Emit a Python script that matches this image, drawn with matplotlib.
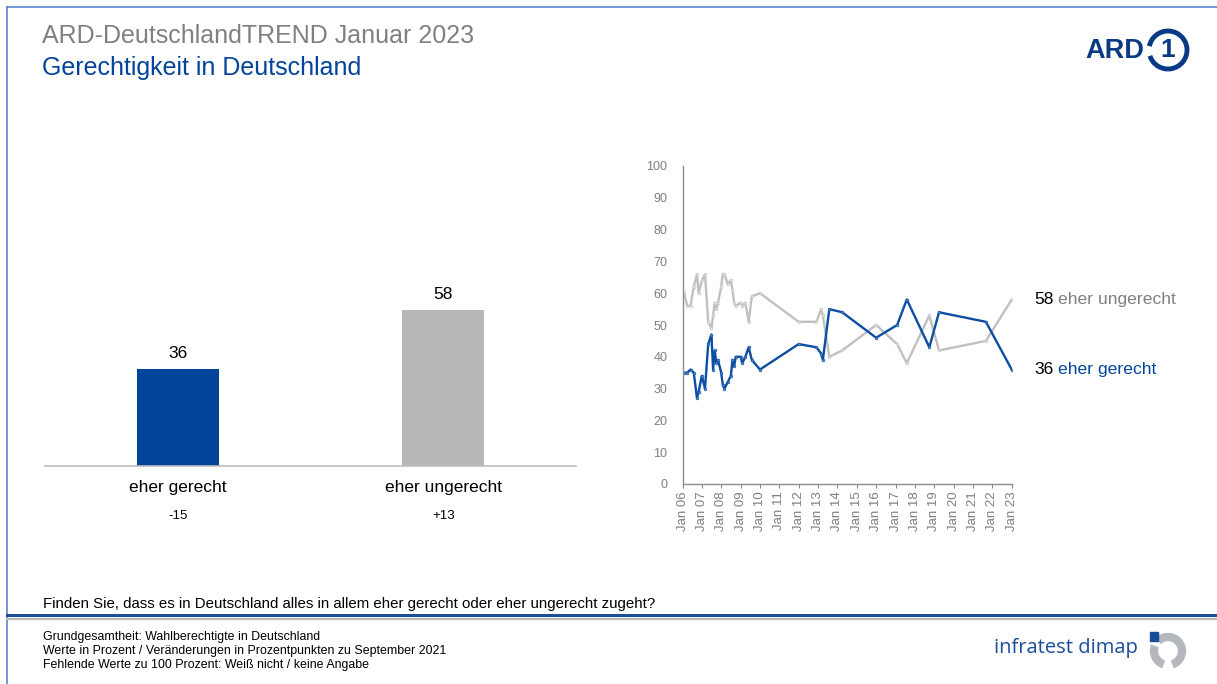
import numpy as np
import pandas as pd
import matplotlib
matplotlib.use("Agg")
from matplotlib import pyplot as plt
from matplotlib.patches import Arc, Rectangle
from matplotlib.lines import Line2D

plt.rcParams['font.family'] = ['Liberation Sans', 'DejaVu Sans']

# bar chart data
bar_labels = ['eher gerecht', 'eher ungerecht']
bar_values = [36, 58]
bar_changes = ['-15', '+13']

# trend data (ARD-DeutschlandTREND)
dates = ['2006-02', '2006-04', '2006-06', '2006-08', '2006-10', '2006-11',
         '2007-01', '2007-03', '2007-05', '2007-07', '2007-08', '2007-09',
         '2007-10', '2007-11', '2008-01', '2008-02', '2008-03', '2008-05',
         '2008-07', '2008-08', '2008-09', '2008-10', '2009-01', '2009-02',
         '2009-04', '2009-06', '2009-08', '2010-01', '2012-01', '2012-12',
         '2013-03', '2013-04', '2013-08', '2014-04', '2016-01', '2017-02',
         '2017-08', '2018-10', '2019-04', '2021-09', '2023-01']
ungerecht = [60, 56, 56, 62, 66, 60, 64, 66, 51, 49, 53, 57, 55, 57, 62, 66,
             66, 63, 64, 61, 57, 56, 57, 56, 57, 51, 59, 60, 51, 51, 55, 53,
             40, 42, 50, 44, 38, 53, 42, 45, 58]
gerecht = [35, 35, 36, 35, 27, 29, 34, 30, 44, 47, 36, 42, 38, 39, 35, 31,
           30, 32, 34, 39, 37, 40, 40, 38, 40, 43, 39, 36, 44, 43, 41, 39,
           55, 54, 46, 50, 58, 43, 54, 51, 36]
year_ticks = list(range(2006, 2024))

BLUE = '#03449b'
LBLUE = '#0b4ea2'
GRAY = '#b7b7b7'
LGRAY = '#c0c0c0'
TXT = '#7f7f7f'

W, H = 1217, 684
fig = plt.figure(figsize=(W / 100, H / 100), dpi=100)


def fx(px):
    return px / W


def fy(py):
    return 1 - py / H


# frame
fig.add_artist(Line2D([fx(7), fx(7)], [fy(7), 0], color='#5b86c9', lw=1.2))
fig.add_artist(Line2D([fx(7), 1], [fy(7), fy(7)], color='#5b86c9', lw=1.2))
fig.add_artist(Line2D([fx(7), 1], [fy(615), fy(615)], color='#1c4f9c', lw=2.2))
fig.add_artist(Line2D([fx(7), 1], [fy(619), fy(619)], color='#b9b9b9', lw=1.6))

# titles
fig.text(fx(42), fy(36), 'ARD-DeutschlandTREND Januar 2023', fontsize=18,
         color='#808080', va='center')
fig.text(fx(42), fy(68), 'Gerechtigkeit in Deutschland', fontsize=18,
         color=BLUE, va='center')

# ARD logo
fig.text(fx(1085), fy(51), 'ARD', fontsize=19.5, fontweight='bold',
         color='#0a3a84', va='center', ha='left')
r = 19
fig.add_artist(Arc((fx(1168), fy(50)), 2 * r / W, 2 * r / H, theta1=-150,
                   theta2=160, color='#0a3a84', lw=3.5))
fig.text(fx(1168), fy(50), '1', fontsize=19, fontweight='bold',
         color='#0a3a84', va='center', ha='center')

# bar chart
axb = fig.add_axes([fx(45), fy(466), fx(576) - fx(45), fy(197) - fy(466)])
x = np.arange(len(bar_values))
axb.bar(x, bar_values, width=0.31, color=[BLUE, GRAY])
for xi, v in zip(x, bar_values):
    axb.text(xi, v + 3, str(v), ha='center', va='bottom', fontsize=12.5)
axb.set_xlim(-0.5, 1.5)
axb.set_ylim(0, 100)
axb.set_xticks(x)
axb.set_xticklabels(bar_labels, fontsize=12.5)
axb.tick_params(axis='x', length=0, pad=10)
axb.set_yticks([])
for s in ['top', 'right', 'left']:
    axb.spines[s].set_visible(False)
axb.spines['bottom'].set_color('#bfbfbf')
axb.spines['bottom'].set_linewidth(1.2)
for xi, c in zip(x, bar_changes):
    axb.annotate(c, xy=(xi, 0), xycoords='data', xytext=(0, -36),
                 textcoords='offset points', ha='center', va='center',
                 fontsize=9.5)

# trend chart
axl = fig.add_axes([fx(682.5), fy(484), fx(1011.7) - fx(682.5), fy(166) - fy(484)])
d = pd.to_datetime(dates)
axl.plot(d, ungerecht, color=LGRAY, lw=1.7, marker='o', ms=2.0,
         mfc='#e6e6e6', mec=LGRAY, mew=0.4)
axl.plot(d, gerecht, color=LBLUE, lw=1.7, marker='o', ms=2.0,
         mfc='#5b86c9', mec=LBLUE, mew=0.4)
tick_dates = pd.to_datetime([f'{y}-01-01' for y in year_ticks])
axl.set_xlim(tick_dates[0], tick_dates[-1])
axl.set_xticks(tick_dates)
axl.set_xticklabels([f'Jan {y % 100:02d}' for y in year_ticks], rotation=90,
                    fontsize=9.5, color=TXT)
axl.set_ylim(0, 100)
axl.set_yticks(range(0, 101, 10))
axl.tick_params(axis='y', length=0, labelsize=9, labelcolor=TXT, pad=11)
axl.tick_params(axis='x', length=3, color='#8c8c8c', pad=2)
for s in ['top', 'right']:
    axl.spines[s].set_visible(False)
for s in ['left', 'bottom']:
    axl.spines[s].set_color('#8c8c8c')
    axl.spines[s].set_linewidth(1.0)

for vals, name, col in [(ungerecht, 'eher ungerecht', '#808080'),
                        (gerecht, 'eher gerecht', BLUE)]:
    axl.annotate(str(vals[-1]), xy=(d[-1], vals[-1]), xytext=(16.5, 0),
                 textcoords='offset points', ha='left', va='center',
                 fontsize=12.5, annotation_clip=False)
    axl.annotate(name, xy=(d[-1], vals[-1]), xytext=(33.5, 0),
                 textcoords='offset points', ha='left', va='center',
                 fontsize=12.6, color=col, annotation_clip=False)

# question and footnotes
fig.text(fx(43), fy(604), 'Finden Sie, dass es in Deutschland alles in allem '
         'eher gerecht oder eher ungerecht zugeht?', fontsize=10.8, va='center')
foot = ['Grundgesamtheit: Wahlberechtigte in Deutschland',
        'Werte in Prozent / Veränderungen in Prozentpunkten zu September 2021',
        'Fehlende Werte zu 100 Prozent: Weiß nicht / keine Angabe']
for i, t in enumerate(foot):
    fig.text(fx(43), fy(637 + 14 * i), t, fontsize=8.9, va='center')

# infratest dimap logo
fig.text(fx(994), fy(648), 'infratest dimap', fontsize=14.5, color='#1a4c9a',
         va='center', family=['Open Sans', 'DejaVu Sans'])
r2 = 14
fig.add_artist(Arc((fx(1168), fy(651)), 2 * r2 / W, 2 * r2 / H, theta1=-80,
                   theta2=120, color='#b4b8bd', lw=6))
fig.add_artist(Arc((fx(1168), fy(651)), 2 * r2 / W, 2 * r2 / H, theta1=145,
                   theta2=260, color='#b4b8bd', lw=6))
fig.add_artist(Rectangle((fx(1150), fy(641)), 8 / W, 9 / H, color='#1a4c9a'))

fig.savefig('out.png', dpi=100)
